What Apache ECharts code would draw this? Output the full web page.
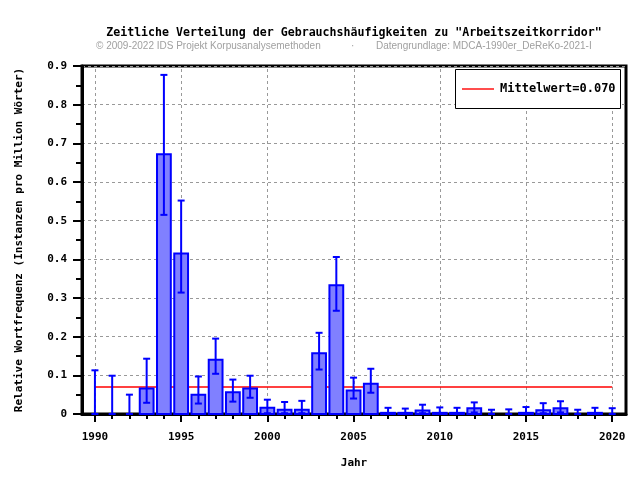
<!DOCTYPE html>
<html><head><meta charset="utf-8">
<script src="https://cdn.jsdelivr.net/npm/echarts@6/dist/echarts.min.js"></script>
<style>html,body{margin:0;padding:0;background:#fff}#c{width:640px;height:480px}</style>
</head><body><div id="c"></div>
<script>
const years = [1990,1991,1992,1993,1994,1995,1996,1997,1998,1999,2000,2001,2002,2003,2004,2005,2006,2007,2008,2009,2010,2011,2012,2013,2014,2015,2016,2017,2018,2019,2020];
const values = [0,0,0,0.066,0.672,0.415,0.050,0.140,0.056,0.066,0.016,0.011,0.011,0.157,0.333,0.061,0.078,0.003,0.003,0.009,0.003,0.003,0.015,0,0,0.003,0.010,0.015,0,0.003,0];
const errHigh = [0.113,0.099,0.050,0.143,0.877,0.552,0.097,0.195,0.089,0.099,0.037,0.031,0.034,0.210,0.406,0.094,0.117,0.016,0.014,0.024,0.017,0.016,0.030,0.011,0.012,0.018,0.028,0.033,0.011,0.016,0.015];
const errLow = [0,0,0,0.029,0.515,0.314,0.027,0.104,0.032,0.042,0.002,0.002,0.002,0.115,0.267,0.040,0.055,0,0,0.002,0,0,0.004,0,0,0,0.002,0.004,0,0,0];
const mean = 0.070;
const majorYears = [1990,1995,2000,2005,2010,2015,2020];
const titleText = 'Zeitliche Verteilung der Gebrauchshäufigkeiten zu "Arbeitszeitkorridor"';
const subLeft = '© 2009-2022 IDS Projekt Korpusanalysemethoden';
const subRight = 'Datengrundlage: MDCA-1990er_DeReKo-2021-I';
const legendText = 'Mittelwert=0.070';

const mono = '"DejaVu Sans Mono", monospace';
const chart = echarts.init(document.getElementById('c'));
const barData = years.map((y,i)=>[y, values[i]]);
const errData = years.map((y,i)=>[y, errLow[i], errHigh[i]]);
const xCommon = {type:'value', min:1989.25, max:2020.8};
chart.setOption({
  animation:false,
  grid:{left:82, right:14, top:66, bottom:66, show:true, borderColor:'#000', borderWidth:3, containLabel:false},
  xAxis:[
    Object.assign({}, xCommon, {
      name:'Jahr', nameLocation:'middle', nameGap:44,
      nameTextStyle:{fontFamily:mono, fontWeight:'bold', fontSize:11, color:'#000'},
      axisLine:{show:true, lineStyle:{color:'#000', width:3}},
      axisTick:{show:true, length:8, lineStyle:{color:'#000', width:2}, customValues:majorYears},
      axisLabel:{customValues:majorYears, fontFamily:mono, fontWeight:'bold', fontSize:11, color:'#000', margin:18, formatter:v=>String(v)},
      splitLine:{show:false}
    }),
    Object.assign({}, xCommon, {
      position:'bottom',
      axisLine:{show:false},
      axisTick:{show:true, length:5, lineStyle:{color:'#000', width:2}, customValues:years},
      axisLabel:{show:false},
      splitLine:{show:false}
    })
  ],
  yAxis:{
    type:'value', min:0, max:0.9, interval:0.1,
    name:'Relative Wortfrequenz (Instanzen pro Million Wörter)', nameLocation:'middle', nameGap:57,
    nameTextStyle:{fontFamily:mono, fontWeight:'bold', fontSize:11, color:'#000'},
    axisLine:{show:true, lineStyle:{color:'#000', width:3}},
    axisTick:{show:true, length:9, lineStyle:{color:'#000', width:2}},
    minorTick:{show:true, splitNumber:2, length:6, lineStyle:{color:'#000', width:2}},
    axisLabel:{fontFamily:mono, fontWeight:'bold', fontSize:11, color:'#000', margin:15,
      formatter:v=> v===0 ? '0' : v.toFixed(1)},
    splitLine:{show:true, lineStyle:{color:'#999', type:[3,3], width:1}}
  },
  series:[
    {
      type:'custom', data:majorYears.map(y=>[y]), z:0, silent:true,
      renderItem:(params, api)=>{
        const x = api.value(0);
        const b = api.coord([x, 0]);
        const t = api.coord([x, 0.9]);
        const px = Math.round(b[0]) + 0.5;
        return {type:'line', shape:{x1:px, y1:b[1], x2:px, y2:t[1]},
          style:{stroke:'#999', lineWidth:1, lineDash:[3,3]}};
      }
    },
    {
      type:'line', data:[[years[0],mean],[years[years.length-1],mean]], symbol:'none', silent:true,
      lineStyle:{color:'#ff0000', width:1.4}, z:1
    },
    {
      type:'custom', data:barData, z:3,
      renderItem:(params, api)=>{
        const x = api.value(0), v = api.value(1);
        if (!(v>0)) return null;
        const p0 = api.coord([x, 0]);
        const p1 = api.coord([x, v]);
        const w = api.size([0.8, 0])[0];
        return {type:'rect', shape:{x:p0[0]-w/2, y:p1[1], width:w, height:p0[1]-p1[1]},
          style:{fill:'#8080ff', stroke:'#0000ff', lineWidth:2}};
      }
    },
    {
      type:'custom', data:errData, z:4,
      renderItem:(params, api)=>{
        const x = api.value(0);
        const lo = api.coord([x, api.value(1)]);
        const hi = api.coord([x, api.value(2)]);
        const cw = 3.5;
        const st = {stroke:'#0000ff', lineWidth:2};
        return {type:'group', children:[
          {type:'line', shape:{x1:lo[0], y1:lo[1], x2:hi[0], y2:hi[1]}, style:st},
          {type:'line', shape:{x1:hi[0]-cw, y1:hi[1], x2:hi[0]+cw, y2:hi[1]}, style:st},
          {type:'line', shape:{x1:lo[0]-cw, y1:lo[1], x2:lo[0]+cw, y2:lo[1]}, style:st}
        ]};
      }
    }
  ],
  graphic:[
    {type:'text', x:354, y:33, style:{text:titleText, font:'bold 11.6px '+mono, fill:'#000', textAlign:'center', textVerticalAlign:'middle'}},
    {type:'text', x:96, y:46, style:{text:subLeft, font:'10px "Liberation Sans", sans-serif', fill:'#a0a0a0', textVerticalAlign:'middle'}},
    {type:'text', x:351, y:46, style:{text:'·', font:'10px "Liberation Sans", sans-serif', fill:'#a0a0a0', textVerticalAlign:'middle'}},
    {type:'text', x:376, y:46, style:{text:subRight, font:'10px "Liberation Sans", sans-serif', fill:'#a0a0a0', textVerticalAlign:'middle'}},
    {type:'rect', shape:{x:455.5, y:69.5, width:165, height:39}, style:{fill:'#fff', stroke:'#000', lineWidth:1}, z:10},
    {type:'line', shape:{x1:462, y1:89, x2:494, y2:89}, style:{stroke:'#ff0000', lineWidth:1.4}, z:12},
    {type:'text', x:500, y:89, style:{text:legendText, font:'bold 12px '+mono, fill:'#000', textVerticalAlign:'middle'}, z:11}
  ]
});
</script></body></html>
